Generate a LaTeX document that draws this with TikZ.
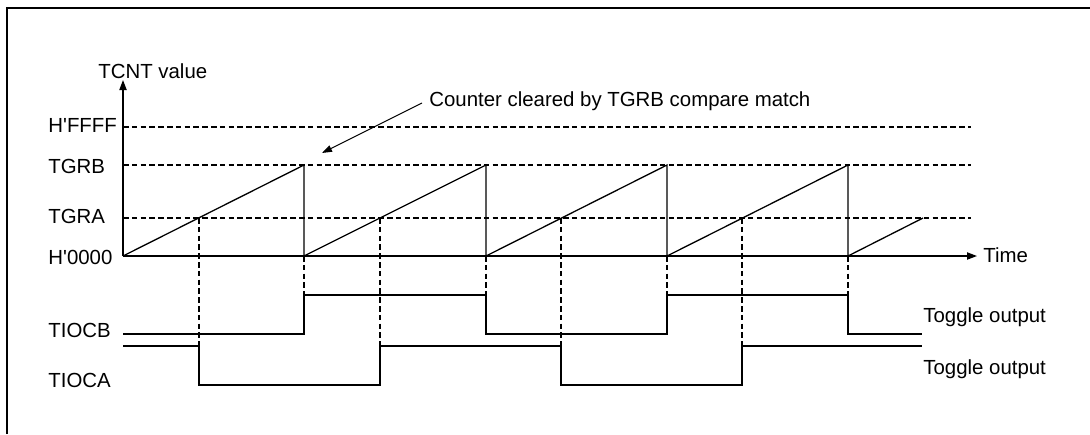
\documentclass[tikz,border=0pt]{standalone}
\usepackage{fontspec}
\setmainfont{Liberation Sans}
\usetikzlibrary{arrows.meta}
\begin{document}
\begin{tikzpicture}[x=0.5pt,y=-0.5pt,
  wave/.style={line width=0.65pt, line join=miter},
  guide/.style={line width=0.6pt, dash pattern=on 2.8pt off 1.6pt},
  axis/.style={line width=0.65pt, -{Triangle[length=5pt,width=3.6pt]}},
  lbl/.style={font=\fontsize{10.2pt}{12pt}\selectfont, inner sep=0pt, anchor=base west}]
\useasboundingbox (0,0) rectangle (1090,434);
% frame
\draw[line width=0.6pt] (7,434) -- (7,8) -- (1090,8);
% coordinates
\coordinate (O) at (123,256);
\coordinate (Ytop) at (123,80);
\coordinate (Xend) at (977,256);
% guides
\foreach \y in {127,165,218} \draw[guide] (123,\y) -- (971,\y);
\foreach \x in {199,380,561,742} \draw[guide] (\x,218) -- (\x,346);
\foreach \x in {304,486,667,848} \draw[guide] (\x,256) -- (\x,295);
% axes
\draw[axis] (O) -- (Ytop);
\draw[axis] (O) -- (Xend);
% counter ramp
\draw[wave] (O) -- (304,165) -- (304,256) -- (486,165) -- (486,256) -- (667,165) -- (667,256) -- (848,165) -- (848,256) -- (923,218);
% TIOCB
\draw[wave] (123,334) -- (304,334) -- (304,295) -- (486,295) -- (486,334) -- (667,334) -- (667,295) -- (848,295) -- (848,334) -- (922,334);
% TIOCA
\draw[wave] (123,346) -- (199,346) -- (199,385) -- (380,385) -- (380,346) -- (561,346) -- (561,385) -- (742,385) -- (742,346) -- (922,346);
% labels
\node[lbl] (tcnt) at (98,78) {TCNT value};
\node[lbl] (hffff) at (48,132) {H\textquotesingle FFFF};
\node[lbl] (tgrb) at (48,173) {TGRB};
\node[lbl] (tgra) at (48,223) {TGRA};
\node[lbl] (h0000) at (48,264) {H\textquotesingle 0000};
\node[lbl] (tiocb) at (48,337) {TIOCB};
\node[lbl] (tioca) at (48,387) {TIOCA};
\node[lbl] (tog1) at (923,322) {Toggle output};
\node[lbl] (tog2) at (923,374) {Toggle output};
\node[lbl] (time) at (983,262) {Time};
\node[lbl] (note) at (429,106) {Counter cleared by TGRB compare match};
\coordinate (ntail) at (422,103);
\coordinate (nhead) at (322,153);
\draw[line width=0.5pt, -{Triangle[length=5pt,width=3.4pt]}] (ntail) -- (nhead);
\end{tikzpicture}
\end{document}
